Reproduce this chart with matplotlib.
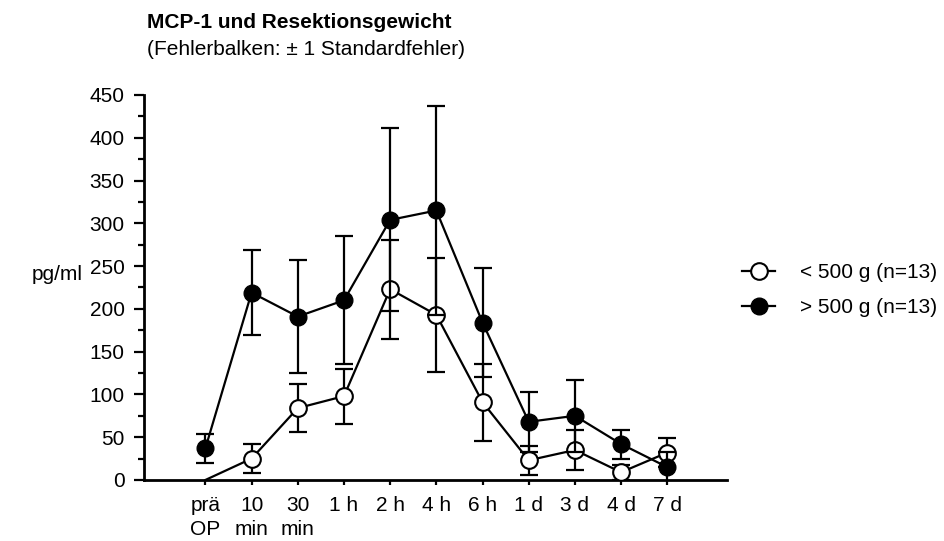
import matplotlib
matplotlib.use("Agg")
import matplotlib.pyplot as plt
from matplotlib.lines import Line2D
from matplotlib.ticker import MultipleLocator

plt.rcParams["font.family"] = ["Liberation Sans", "DejaVu Sans"]

time_labels = ["prä\nOP", "10\nmin", "30\nmin", "1 h", "2 h", "4 h", "6 h",
               "1 d", "3 d", "4 d", "7 d"]

# MCP-1 in pg/ml, mean and standard error per time point
light_mean = [0, 25, 84, 98, 223, 193, 91, 23, 35, 9, 32]
light_se = [0, 17, 28, 32, 58, 67, 45, 17, 23, 9, 17]
heavy_mean = [37, 219, 191, 210, 304, 315, 184, 68, 75, 42, 15]
heavy_se = [17, 50, 66, 75, 107, 122, 64, 35, 42, 17, 18]

light_name = "< 500 g (n=13)"
heavy_name = "> 500 g (n=13)"

FS = 15
LW = 1.6

fig = plt.figure(figsize=(9.44, 5.41), dpi=100)
ax = fig.add_axes([0.1525, 0.1128, 0.6175, 0.7116])

x = list(range(len(time_labels)))

# < 500 g: the pre-op value is 0 and carries no marker
ax.plot(x, light_mean, color="black", lw=LW, zorder=2)
ax.errorbar(x[1:], light_mean[1:], yerr=light_se[1:], fmt="none",
            ecolor="black", elinewidth=LW, capsize=6.5, capthick=LW, zorder=2)
ax.plot(x[1:], light_mean[1:], linestyle="none", marker="o", markersize=12,
        markerfacecolor="white", markeredgecolor="black", markeredgewidth=1.5,
        zorder=3)

# > 500 g
ax.errorbar(x, heavy_mean, yerr=heavy_se, fmt="-o", color="black", lw=LW,
            ecolor="black", elinewidth=LW, capsize=6.5, capthick=LW,
            markersize=12, markerfacecolor="black", markeredgecolor="black",
            zorder=4)

ax.set_xlim(-1.33, 11.29)
ax.set_ylim(0, 450)
ax.set_xticks(x)
ax.set_xticklabels(time_labels, fontsize=FS, linespacing=1.32)
ax.yaxis.set_major_locator(MultipleLocator(50))
ax.yaxis.set_minor_locator(MultipleLocator(25))
ax.tick_params(axis="y", labelsize=FS, length=7, width=LW, pad=7)
ax.tick_params(axis="y", which="minor", length=4, width=LW)
ax.tick_params(axis="x", length=3.5, width=LW, pad=8)

for side in ("top", "right"):
    ax.spines[side].set_visible(False)
for side in ("left", "bottom"):
    ax.spines[side].set_linewidth(2)

fig.text(32 / 944, 1 - 280 / 541, "pg/ml", fontsize=FS, va="baseline", ha="left")

fig.text(147 / 944, 1 - 28 / 541, "MCP-1 und Resektionsgewicht",
         fontsize=FS, fontweight="bold", va="baseline", ha="left")
fig.text(147 / 944, 1 - 55 / 541, "(Fehlerbalken: \u00b1 1 Standardfehler)",
         fontsize=FS, va="baseline", ha="left")

handles = [
    Line2D([], [], color="black", lw=LW, marker="o", markersize=12,
           markerfacecolor="white", markeredgecolor="black", markeredgewidth=1.5),
    Line2D([], [], color="black", lw=LW, marker="o", markersize=12,
           markerfacecolor="black", markeredgecolor="black"),
]
fig.legend(handles, [light_name, heavy_name], loc="center left",
           bbox_to_anchor=(742 / 944, 1 - 290 / 541), frameon=False,
           fontsize=FS, handlelength=1.6, handletextpad=1.2,
           labelspacing=0.75, borderpad=0, borderaxespad=0)

fig.savefig("out.png", dpi=100)
